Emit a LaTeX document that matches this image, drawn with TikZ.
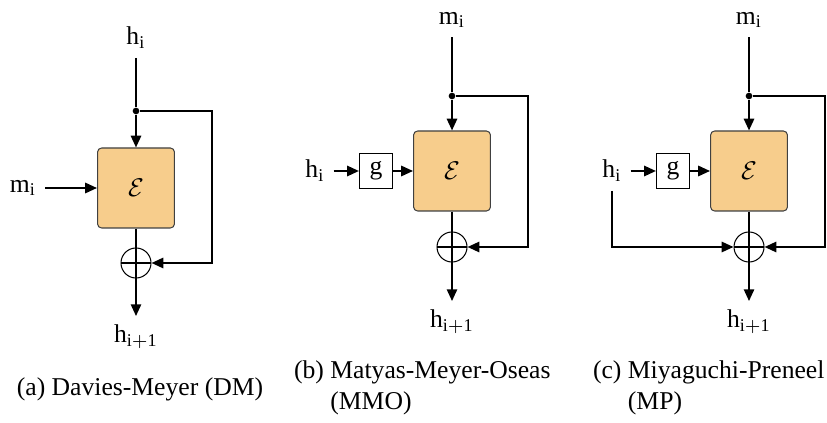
\documentclass[tikz,border=0pt]{standalone}
\usepackage{amsmath}
\usepackage{fontspec}
\setmainfont{Liberation Serif}
\usepackage{xcolor}
\usepackage{tikz}
\usetikzlibrary{arrows.meta, positioning}

\definecolor{boxorange}{RGB}{247,205,140}

\begin{document}
\begin{tikzpicture}[x=0.39pt, y=-0.39pt, >={Triangle[length=4.6pt,width=4pt]},
    wire/.style={line width=0.8pt},
    cipher/.style={draw=black!75, fill=boxorange, rounded corners=1.6pt,
        minimum width=30pt, minimum height=31.2pt, inner sep=0pt},
    gbox/.style={draw, fill=white, line width=0.4pt,
        minimum width=12.9pt, minimum height=13.6pt, inner sep=0pt},
    xor/.style={draw, circle, line width=0.4pt, minimum size=11.7pt, inner sep=0pt,
        path picture={\draw[line width=0.4pt]
            (path picture bounding box.west) -- (path picture bounding box.east)
            (path picture bounding box.north) -- (path picture bounding box.south);}},
    junction/.style={circle, fill, inner sep=0pt, minimum size=2.6pt},
    caption/.style={align=left}]

    \useasboundingbox (0,0) rectangle (827,423);

    % =================================================================
    % 1. DAVIES-MEYER
    % =================================================================
    \node (hiA) at (136,38) {$\mathrm{h_i}$};
    \node[junction] (dotA) at (136,111) {};
    \node[cipher] (encA) at (136,188) {$\mathcal{E}$};
    \node (miA) at (23,188) {$\mathrm{m_i}$};
    \node[xor] (xorA) at (136,263) {};
    \node (hoA) at (136,337) {$\mathrm{h_{i+1}}$};
    \coordinate (fbA) at (212,111);

    \draw[wire] (hiA) -- (dotA);
    \draw[wire, ->] (dotA) -- (encA);
    \draw[wire, ->] (miA) -- (encA);
    \draw[wire, ->] (encA) -- (hoA);
    \draw[wire, ->] (dotA) -- (fbA) |- (xorA);

    % =================================================================
    % 2. MATYAS-MEYER-OSEAS
    % =================================================================
    \node (miB) at (452,20) {$\mathrm{m_i}$};
    \node[junction] (dotB) at (452,96) {};
    \node[cipher] (encB) at (452,171) {$\mathcal{E}$};
    \node[gbox] (gB) at (376,171) {$\mathrm{g}$};
    \node (hiB) at (315,171) {$\mathrm{h_i}$};
    \node[xor] (xorB) at (452,247) {};
    \node (hoB) at (452,322) {$\mathrm{h_{i+1}}$};
    \coordinate (fbB) at (528,96);

    \draw[wire] (miB) -- (dotB);
    \draw[wire, ->] (dotB) -- (encB);
    \draw[wire, ->] (hiB) -- (gB);
    \draw[wire, ->] (gB) -- (encB);
    \draw[wire, ->] (encB) -- (hoB);
    \draw[wire, ->] (dotB) -- (fbB) |- (xorB);

    % =================================================================
    % 3. MIYAGUCHI-PRENEEL
    % =================================================================
    \node (miC) at (749,20) {$\mathrm{m_i}$};
    \node[junction] (dotC) at (749,96) {};
    \node[cipher] (encC) at (749,171) {$\mathcal{E}$};
    \node[gbox] (gC) at (673,171) {$\mathrm{g}$};
    \node (hiC) at (612,171) {$\mathrm{h_i}$};
    \node[xor] (xorC) at (749,247) {};
    \node (hoC) at (749,322) {$\mathrm{h_{i+1}}$};
    \coordinate (fbC) at (825,96);

    \draw[wire] (miC) -- (dotC);
    \draw[wire, ->] (dotC) -- (encC);
    \draw[wire, ->] (hiC) -- (gC);
    \draw[wire, ->] (gC) -- (encC);
    \draw[wire, ->] (encC) -- (hoC);
    \draw[wire, ->] (dotC) -- (fbC) |- (xorC);
    \draw[wire, ->] (hiC) |- (xorC);

    % =================================================================
    % 4. CAPTIONS
    % =================================================================
    \node[caption] (capA) at (140,389) {(a) Davies-Meyer (DM)};
    \node[caption, anchor=west] (capB) at (285,388)
        {(b) Matyas-Meyer-Oseas\\\phantom{(b) }(MMO)};
    \node[caption, anchor=west] (capC) at (584,388)
        {(c) Miyaguchi-Preneel\\\phantom{(c) }(MP)};

\end{tikzpicture}
\end{document}
